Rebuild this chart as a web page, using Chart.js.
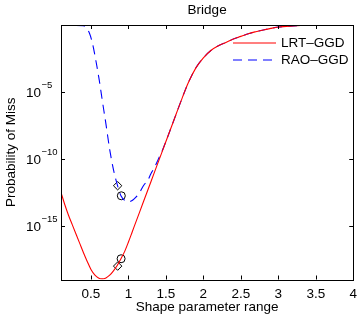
<!DOCTYPE html>
<html><head><meta charset="utf-8">
<script src="https://cdn.jsdelivr.net/npm/chart.js@4/dist/chart.umd.min.js"></script>
<style>html,body{margin:0;padding:0;background:#fff;}canvas{display:block;}</style>
</head><body>
<canvas id="c" width="364" height="317"></canvas>
<script>
// ---- data ----
const chartTitle = "Bridge";
const xLabel = "Shape parameter range";
const yLabel = "Probability of Miss";
const seriesNames = ["LRT–GGD", "RAO–GGD"];
const xTicks = [0.5, 1, 1.5, 2, 2.5, 3, 3.5, 4];
const yTickExponents = [-5, -10, -15];

// LRT-GGD: x and log10(probability of miss)
const lrtX =     [0.1, 0.15, 0.2, 0.25, 0.3, 0.35, 0.4, 0.45, 0.5, 0.55, 0.6, 0.65, 0.7, 0.75, 0.8, 0.85, 0.9, 0.95, 1.0, 1.05, 1.1, 1.15, 1.2, 1.25, 1.3, 1.35, 1.4, 1.45, 1.5, 1.6, 1.7, 1.8, 1.9, 2.0, 2.1, 2.2, 2.3, 2.4, 2.5, 2.6, 2.7, 2.8, 2.9, 3.0, 3.2, 3.4, 3.6, 3.8, 4.0];
const lrtLog10 = [-12.5, -13.4, -14.2, -14.9, -15.6, -16.3, -17.0, -17.65, -18.25, -18.65, -18.88, -18.95, -18.88, -18.68, -18.35, -17.95, -17.45, -16.9, -16.2, -15.45, -14.7, -13.95, -13.2, -12.45, -11.7, -10.95, -10.2, -9.45, -8.7, -7.2, -5.7, -4.3, -3.2, -2.45, -1.9, -1.55, -1.3, -1.05, -0.85, -0.65, -0.5, -0.37, -0.25, -0.15, -0.07, -0.02, 0, 0, 0];

// RAO-GGD
const raoX =     [0.1, 0.2, 0.3, 0.4, 0.43, 0.48, 0.52, 0.57, 0.61, 0.65, 0.7, 0.75, 0.8, 0.85, 0.9, 0.95, 1.0, 1.05, 1.1, 1.15, 1.2, 1.26, 1.3, 1.35, 1.4, 1.45, 1.5, 1.6, 1.7, 1.8, 1.9, 2.0, 2.1, 2.2, 2.3, 2.4, 2.5, 2.6, 2.7, 2.8, 2.9, 3.0, 3.2, 3.4, 3.6, 3.8, 4.0];
const raoLog10 = [-0.04, -0.04, -0.04, -0.06, -0.18, -0.62, -1.37, -2.8, -4.1, -5.6, -7.4, -9.3, -10.8, -11.9, -12.75, -13.1, -13.2, -13.1, -12.85, -12.5, -12.0, -11.57, -11.1, -10.6, -10.0, -9.4, -8.7, -7.2, -5.7, -4.3, -3.2, -2.45, -1.9, -1.55, -1.3, -1.05, -0.85, -0.65, -0.5, -0.37, -0.25, -0.15, -0.07, -0.02, 0, 0, 0];

// highlighted operating points (black open markers)
const diamondX = [0.856, 0.856];
const diamondLog10 = [-12.0, -18.0];
const circleX = [0.905, 0.902];
const circleLog10 = [-12.75, -17.45];

// ---- build chart ----
const pts = (xs, es) => xs.map((x, i) => ({x: x, y: Math.pow(10, es[i])}));
const FONT = "'Liberation Sans', Arial, Helvetica, sans-serif";
const FS = 13.5;

const framePlugin = {
  id: 'frame',
  afterDraw(chart) {
    const ctx = chart.ctx, a = chart.chartArea;
    const xs = chart.scales.x, ys = chart.scales.y;
    ctx.save();
    ctx.strokeStyle = '#000';
    ctx.lineWidth = 1;
    ctx.strokeRect(Math.round(a.left) + 0.5, Math.round(a.top) + 0.5, Math.round(a.right - a.left), Math.round(a.bottom - a.top));
    const tl = 4;
    ctx.beginPath();
    xTicks.forEach(v => {
      const px = Math.round(xs.getPixelForValue(v)) + 0.5;
      ctx.moveTo(px, a.bottom); ctx.lineTo(px, a.bottom - tl);
      ctx.moveTo(px, a.top); ctx.lineTo(px, a.top + tl);
    });
    yTickExponents.forEach(e => {
      const py = Math.round(ys.getPixelForValue(Math.pow(10, e))) + 0.5;
      ctx.moveTo(a.left, py); ctx.lineTo(a.left + tl, py);
      ctx.moveTo(a.right, py); ctx.lineTo(a.right - tl, py);
    });
    ctx.stroke();
    // y tick labels 10^e
    ctx.fillStyle = '#000';
    yTickExponents.forEach(e => {
      const py = ys.getPixelForValue(Math.pow(10, e));
      ctx.font = FS + 'px ' + FONT;
      ctx.textBaseline = 'alphabetic';
      ctx.textAlign = 'left';
      ctx.fillText('10', 26, py + 5);
      const w = ctx.measureText('10').width;
      ctx.font = '9.5px ' + FONT;
      ctx.fillText('\u2212' + Math.abs(e), 26 + w + 0.5, py - 3.5);
    });
    // title
    ctx.font = FS + 'px ' + FONT;
    ctx.textAlign = 'center';
    ctx.textBaseline = 'middle';
    ctx.fillText(chartTitle, (a.left + a.right) / 2, 10);
    // legend
    const lx0 = 233, lx1 = 276, tx = 281;
    const rows = [{y: 43, color: '#ff0000', dash: []}, {y: 60, color: '#0000ff', dash: [9, 6]}];
    rows.forEach((r, i) => {
      ctx.beginPath();
      ctx.setLineDash(r.dash);
      ctx.strokeStyle = r.color;
      ctx.lineWidth = 1.1;
      ctx.moveTo(lx0, r.y); ctx.lineTo(lx1, r.y);
      ctx.stroke();
      ctx.setLineDash([]);
      ctx.fillStyle = '#000';
      ctx.textAlign = 'left';
      ctx.font = FS + 'px ' + FONT;
      ctx.fillText(seriesNames[i], tx, r.y + 0.5);
    });
    ctx.restore();
  }
};

new Chart(document.getElementById('c'), {
  type: 'scatter',
  data: {
    datasets: [
      {label: seriesNames[0], data: pts(lrtX, lrtLog10), showLine: true, borderColor: '#ff0000', borderWidth: 1.1, pointRadius: 0, cubicInterpolationMode: 'monotone'},
      {label: seriesNames[1], data: pts(raoX, raoLog10), showLine: true, borderColor: '#0000ff', borderWidth: 1.1, borderDash: [9, 6], pointRadius: 0, cubicInterpolationMode: 'monotone'},
      {label: 'diamonds', data: pts(diamondX, diamondLog10), showLine: false, pointStyle: 'rectRot', pointRadius: 4.2, borderColor: '#000', borderWidth: 1, backgroundColor: 'rgba(0,0,0,0)'},
      {label: 'circles', data: pts(circleX, circleLog10), showLine: false, pointStyle: 'circle', pointRadius: 4, borderColor: '#000', borderWidth: 1, backgroundColor: 'rgba(0,0,0,0)'}
    ]
  },
  options: {
    responsive: false,
    animation: false,
    devicePixelRatio: 1,
    layout: {padding: {top: 25, right: 4, bottom: 0, left: 0}},
    plugins: {legend: {display: false}, tooltip: {enabled: false}, title: {display: false}},
    elements: {line: {borderCapStyle: 'butt'}},
    scales: {
      x: {
        type: 'linear', min: 0.1, max: 4,
        grid: {display: false, drawTicks: false},
        border: {display: false},
        afterBuildTicks: s => { s.ticks = xTicks.map(v => ({value: v})); },
        afterFit: s => { s.height = 37.5; },
        ticks: {color: '#000', padding: 7, font: {family: FONT, size: FS}, callback: v => String(v), maxRotation: 0, autoSkip: false},
        title: {display: true, text: xLabel, color: '#000', font: {family: FONT, size: FS}, padding: {top: 0, bottom: 2}}
      },
      y: {
        type: 'logarithmic', min: 1e-19, max: 1,
        grid: {display: false, drawTicks: false},
        border: {display: false},
        afterBuildTicks: s => { s.ticks = yTickExponents.map(e => ({value: Math.pow(10, e)})); },
        afterFit: s => { s.width = 61; },
        ticks: {display: false},
        title: {display: true, text: yLabel, color: '#000', font: {family: FONT, size: FS}, padding: {top: 3, bottom: 0}}
      }
    }
  },
  plugins: [framePlugin]
});
</script>
</body></html>
